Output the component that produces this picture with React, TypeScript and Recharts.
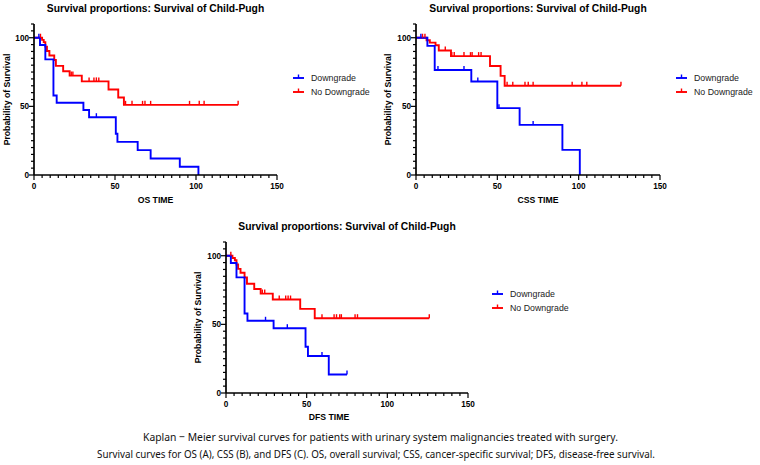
import React from 'react';
import { LineChart, Line, XAxis, YAxis, Legend } from 'recharts';

const BLUE = '#0000ff';
const RED = '#ff0000';
const FONT = '"Liberation Sans", Arial, sans-serif';

// OS: event times (months) and survival (%), plus censored times
const osDownTime = [0, 3.7, 7, 12, 14, 30.5, 34, 50.5, 51.5, 64, 72, 90, 101.5];
const osDownSurv = [100, 94.7, 84.2, 57.9, 52.6, 47.4, 42.1, 30.1, 24.1, 18.1, 12.0, 6.0, 0];
const osDownCensor = [3, 38.5];
const osNoTime = [0, 5, 6, 7, 8, 9.5, 12.5, 13.5, 18, 22, 29.5, 46, 52, 55.5];
const osNoSurv = [100, 98.4, 96.8, 93.5, 90.3, 87.1, 83.8, 79.5, 75.6, 72.4, 68.2, 62.3, 56.5, 51.1];
const osNoCensor = [4, 23, 24, 34, 37, 38.5, 40, 56.5, 60.5, 67, 68.5, 72, 96, 102, 105, 126];

// CSS
const cssDownTime = [0, 7, 11.5, 34, 50, 63.7, 90, 100.7];
const cssDownSurv = [100, 94.1, 76.5, 68.1, 48.7, 36.5, 18.3, 0];
const cssDownCensor = [3, 13.5, 29.5, 38, 51, 72];
const cssNoTime = [0, 6.5, 8.5, 12, 14, 21.5, 45.5, 52, 54.5];
const cssNoSurv = [100, 98.2, 96.4, 94.5, 90.7, 86.6, 79.4, 72.2, 65.0];
const cssNoCensor = [4, 5.5, 18, 22, 23.5, 29.5, 33.5, 34.5, 38.5, 40, 56, 59.5, 67, 69, 72, 96, 102, 105, 126];

// DFS
const dfsDownTime = [0, 3, 6.5, 11.5, 13.3, 29.5, 49.3, 50.8, 63.7];
const dfsDownSurv = [100, 94.7, 84.2, 57.9, 52.6, 47.2, 33.7, 26.9, 13.5];
const dfsDownCensor = [24.5, 38, 59.5, 75];
const dfsNoTime = [0, 4, 5.5, 6.5, 7.5, 9, 11.5, 13, 17.5, 21.5, 29, 46, 55];
const dfsNoSurv = [100, 98.3, 96.7, 93.6, 90.4, 87.6, 84.1, 79.6, 75.8, 72.4, 68.1, 61.3, 54.5];
const dfsNoCensor = [3, 22.5, 24, 33, 37, 38.5, 40, 59.5, 67, 68.5, 70.5, 71.5, 80, 81.5, 126];

const xMajor = [0, 50, 100, 150];
const yMajor = [0, 50, 100];
const xTicks = Array.from({ length: 31 }, (_, i) => i * 5);
const yTicks = Array.from({ length: 23 }, (_, i) => i * 5);

const groups = ['Downgrade', 'No Downgrade'];
const title = 'Survival proportions: Survival of Child-Pugh';
const caption1 = 'Kaplan − Meier survival curves for patients with urinary system malignancies treated with surgery.';
const caption2 =
  'Survival curves for OS (A), CSS (B), and DFS (C). OS, overall survival; CSS, cancer-specific survival; DFS, disease-free survival.';

type Row = { t: number; s: number; censored: boolean };

// merge events and censored times into one step series
function buildCurve(times: number[], surv: number[], censor: number[]): Row[] {
  const rows: Row[] = times.map((t, i) => ({ t, s: surv[i], censored: false }));
  censor.forEach((c) => {
    let s = surv[0];
    times.forEach((t, i) => {
      if (t <= c) s = surv[i];
    });
    rows.push({ t: c, s, censored: true });
  });
  return rows.sort((a, b) => a.t - b.t);
}

const XTick = (props: any) => {
  const { x, y, payload } = props;
  const major = xMajor.includes(payload.value);
  return (
    <g>
      <line x1={x} x2={x} y1={y} y2={y + (major ? 5 : 3)} stroke="#000" strokeWidth={1.2} />
      {major && (
        <text x={x} y={y + 14} textAnchor="middle" fontSize={8.2} fontWeight="bold" fontFamily={FONT} fill="#000">
          {payload.value}
        </text>
      )}
    </g>
  );
};

const YTick = (props: any) => {
  const { x, y, payload } = props;
  const major = yMajor.includes(payload.value);
  return (
    <g>
      <line x1={x} x2={x - (major ? 5 : 3)} y1={y} y2={y} stroke="#000" strokeWidth={1.2} />
      {major && (
        <text x={x - 5} y={y + 3} textAnchor="end" fontSize={8.2} fontWeight="bold" fontFamily={FONT} fill="#000">
          {payload.value}
        </text>
      )}
    </g>
  );
};

const censorDot = (color: string) => (props: any) => {
  const { cx, cy, payload, index } = props;
  if (!payload.censored) return <g key={index} />;
  return <line key={index} x1={cx} x2={cx} y1={cy} y2={cy - 4} stroke={color} strokeWidth={1.4} />;
};

const KmLegend = () => (
  <svg width={100} height={30}>
    {groups.map((name, i) => {
      const color = i === 0 ? BLUE : RED;
      return (
        <g key={name} transform={`translate(0, ${6 + i * 14})`}>
          <line x1={0} x2={11} y1={0} y2={0} stroke={color} strokeWidth={1.9} />
          <line x1={5.5} x2={5.5} y1={0} y2={-3.5} stroke={color} strokeWidth={1.4} />
          <text x={18} y={3} fontSize={8.8} fontFamily={FONT} fill="#222">
            {name}
          </text>
        </g>
      );
    })}
  </svg>
);

type PanelProps = {
  left: number;
  top: number;
  axisWidth: number;
  right: number;
  legendLeft: number;
  legendTop: number;
  down: Row[];
  noDown: Row[];
};

const Panel = ({ left, top, axisWidth, right, legendLeft, legendTop, down, noDown }: PanelProps) => (
  <div style={{ position: 'absolute', left, top }}>
    <LineChart width={380} height={210} margin={{ top: 24, right, bottom: 0, left: 0 }}>
      <XAxis
        type="number"
        dataKey="t"
        domain={[0, 150]}
        ticks={xTicks}
        interval={0}
        tick={XTick}
        tickSize={0}
        tickMargin={0}
        tickLine={false}
        height={35}
        axisLine={{ stroke: '#000', strokeWidth: 1.7 }}
      />
      <YAxis
        type="number"
        domain={[0, 110]}
        ticks={yTicks}
        interval={0}
        tick={YTick}
        tickSize={0}
        tickMargin={0}
        tickLine={false}
        width={axisWidth}
        axisLine={{ stroke: '#000', strokeWidth: 1.7 }}
      />
      <Line
        data={noDown}
        dataKey="s"
        name={groups[1]}
        type="stepAfter"
        stroke={RED}
        strokeWidth={1.9}
        dot={censorDot(RED)}
        activeDot={false}
        isAnimationActive={false}
      />
      <Line
        data={down}
        dataKey="s"
        name={groups[0]}
        type="stepAfter"
        stroke={BLUE}
        strokeWidth={1.9}
        dot={censorDot(BLUE)}
        activeDot={false}
        isAnimationActive={false}
      />
      <Legend
        layout="horizontal"
        align="center"
        verticalAlign="middle"
        content={KmLegend}
        wrapperStyle={{ position: 'absolute', left: legendLeft, top: legendTop, width: 100, height: 30 }}
      />
    </LineChart>
  </div>
);

const axisText = { fontSize: 8.7, fontWeight: 'bold' as const, fontFamily: FONT, fill: '#000' };

export default function App() {
  return (
    <div style={{ position: 'absolute', left: 0, top: 0, width: 760, height: 465, background: '#fff' }}>
      <Panel
        left={0}
        top={0}
        axisWidth={34}
        right={103}
        legendLeft={293}
        legendTop={72}
        down={buildCurve(osDownTime, osDownSurv, osDownCensor)}
        noDown={buildCurve(osNoTime, osNoSurv, osNoCensor)}
      />
      <Panel
        left={380}
        top={0}
        axisWidth={36}
        right={100}
        legendLeft={296}
        legendTop={72}
        down={buildCurve(cssDownTime, cssDownSurv, cssDownCensor)}
        noDown={buildCurve(cssNoTime, cssNoSurv, cssNoCensor)}
      />
      <Panel
        left={190}
        top={218}
        axisWidth={36}
        right={102}
        legendLeft={302}
        legendTop={70}
        down={buildCurve(dfsDownTime, dfsDownSurv, dfsDownCensor)}
        noDown={buildCurve(dfsNoTime, dfsNoSurv, dfsNoCensor)}
      />
      <svg
        width={760}
        height={465}
        style={{ position: 'absolute', left: 0, top: 0, pointerEvents: 'none' }}
      >
        <g fontFamily={FONT} fontWeight="bold" fontSize={10.3} fill="#000" textAnchor="middle">
          <text x={155.5} y={11.7}>{title}</text>
          <text x={538} y={11.7}>{title}</text>
          <text x={347} y={229.5}>{title}</text>
        </g>
        <g textAnchor="middle">
          <text x={155.5} y={202.5} {...axisText}>OS TIME</text>
          <text x={538} y={202.5} {...axisText}>CSS TIME</text>
          <text x={329} y={419.8} {...axisText}>DFS TIME</text>
          <text transform="translate(10.4, 99.5) rotate(-90)" {...axisText}>Probability of Survival</text>
          <text transform="translate(391.4, 99.5) rotate(-90)" {...axisText}>Probability of Survival</text>
          <text transform="translate(201.4, 317.5) rotate(-90)" {...axisText}>Probability of Survival</text>
        </g>
        <g fontFamily='"Noto Sans", sans-serif' fontSize={11.5} fill="#111">
          <text x={143} y={440.5} textLength={475} lengthAdjust="spacingAndGlyphs">{caption1}</text>
          <text x={97} y={457.5} textLength={558} lengthAdjust="spacingAndGlyphs">{caption2}</text>
        </g>
      </svg>
    </div>
  );
}
